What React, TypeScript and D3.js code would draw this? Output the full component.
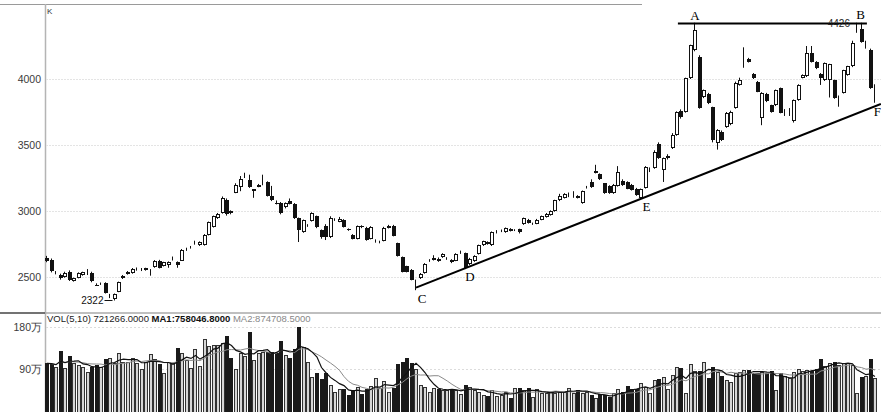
import React from "react";
import * as d3 from "d3";

// ---- data ----
const OPEN = [
  2645, 2630, 2530, 2515, 2500, 2540, 2470, 2495, 2515, 2525,
  2532, 2442, 2445, 2455, 2362, 2335, 2388, 2490, 2522, 2530,
  2560, 2558, 2553, 2550, 2575, 2625, 2585, 2592, 2638, 2612,
  2625, 2708, 2725, 2757, 2740, 2742, 2820, 2880, 2950, 2985,
  3085, 2997, 3140, 3180, 3265, 3232, 3155, 3185, 3205, 3220,
  3110, 3062, 3062, 3030, 3075, 3050, 2945, 2840, 2890, 2925,
  2960, 2855, 2890, 2800, 2935, 2920, 2930, 2860, 2820, 2790,
  2888, 2875, 2790, 2775, 2765, 2775, 2870, 2890, 2757, 2650,
  2580, 2555, 2470, 2490, 2530, 2625, 2630, 2640, 2650, 2640,
  2630, 2625, 2685, 2680, 2600, 2620, 2675, 2740, 2765, 2740,
  2840, 2850, 2840, 2865, 2855, 2860, 2900, 2935, 2905, 2905,
  2935, 2955, 2970, 3000, 3080, 3100, 3125, 3125, 3115, 3060,
  3175, 3220, 3290, 3280, 3210, 3190, 3135, 3190, 3230, 3220,
  3200, 3170, 3100, 3175, 3310, 3325, 3510, 3310, 3400, 3475,
  3575, 3760, 3750, 4005, 4220, 4170, 3865, 3890, 3785, 3515,
  3600, 3640, 3660, 3780, 3955, 4092, 4150, 4040, 3980, 3705,
  3890, 3800, 3800, 3930, 3758, 3760, 3680, 3840, 4010, 4020,
  4195, 4130, 4040, 3990, 3995, 3990, 3860, 3895, 4030, 4095,
  4362, 4380, 4265, 4220, 3945,
];
const HIGH = [
  2660, 2640, 2545, 2525, 2540, 2550, 2495, 2535, 2540, 2560,
  2540, 2452, 2458, 2460, 2372, 2375, 2465, 2515, 2545, 2568,
  2572, 2568, 2570, 2560, 2628, 2630, 2615, 2618, 2655, 2618,
  2712, 2722, 2735, 2775, 2770, 2825, 2920, 2965, 2985, 3110,
  3095, 3005, 3210, 3265, 3290, 3275, 3165, 3205, 3275, 3225,
  3190, 3080, 3068, 3065, 3095, 3060, 2950, 2935, 2900, 2990,
  2965, 2860, 2900, 2960, 2945, 2955, 2938, 2868, 2825, 2890,
  2892, 2880, 2885, 2785, 2775, 2880, 2895, 2895, 2760, 2655,
  2585, 2560, 2480, 2530, 2605, 2635, 2665, 2648, 2680, 2650,
  2635, 2680, 2700, 2685, 2645, 2665, 2745, 2775, 2770, 2845,
  2855, 2860, 2875, 2870, 2862, 2866, 2950, 2940, 2912, 2940,
  2965, 2985, 3005, 3085, 3130, 3135, 3140, 3150, 3120, 3155,
  3190, 3240, 3350, 3285, 3212, 3195, 3205, 3340, 3240, 3225,
  3205, 3175, 3170, 3340, 3330, 3460, 3520, 3405, 3430, 3590,
  3755, 3770, 4010, 4260, 4426, 4180, 3920, 3895, 3790, 3620,
  3610, 3750, 3760, 3980, 4010, 4240, 4160, 4045, 3985, 3900,
  3895, 3805, 3920, 3935, 3772, 3780, 3845, 3960, 4035, 4250,
  4250, 4135, 4045, 4125, 4115, 3995, 3875, 4070, 4100, 4290,
  4426, 4426, 4290, 4230, 3960,
];
const LOW = [
  2612, 2535, 2520, 2480, 2495, 2470, 2465, 2490, 2510, 2515,
  2460, 2432, 2440, 2375, 2340, 2322, 2385, 2485, 2518, 2525,
  2548, 2545, 2548, 2510, 2570, 2565, 2580, 2570, 2625, 2570,
  2622, 2698, 2715, 2745, 2735, 2738, 2815, 2875, 2940, 2980,
  2965, 2975, 3135, 3150, 3250, 3175, 3100, 3180, 3195, 3110,
  3075, 3050, 2975, 3020, 3050, 2940, 2765, 2835, 2880, 2920,
  2870, 2790, 2780, 2795, 2925, 2915, 2875, 2850, 2785, 2785,
  2870, 2775, 2785, 2760, 2755, 2770, 2868, 2808, 2655, 2535,
  2535, 2475, 2400, 2485, 2525, 2615, 2625, 2615, 2645, 2630,
  2605, 2620, 2675, 2560, 2590, 2615, 2670, 2735, 2745, 2735,
  2830, 2840, 2835, 2845, 2848, 2830, 2895, 2905, 2895, 2900,
  2930, 2950, 2965, 2995, 3075, 3095, 3105, 3100, 3095, 3055,
  3170, 3175, 3285, 3235, 3130, 3130, 3130, 3185, 3190, 3165,
  3155, 3115, 3085, 3170, 3295, 3320, 3395, 3220, 3390, 3470,
  3570, 3700, 3745, 4000, 4210, 3775, 3855, 3810, 3520, 3465,
  3530, 3630, 3650, 3775, 3950, 4085, 4125, 4000, 3900, 3650,
  3825, 3745, 3795, 3740, 3720, 3720, 3670, 3835, 4005, 4015,
  4125, 4075, 3955, 3985, 3860, 3850, 3790, 3890, 4025, 4090,
  4350, 4275, 4230, 3925, 3820,
];
const CLOSE = [
  2618, 2545, 2540, 2490, 2530, 2480, 2492, 2530, 2535, 2527,
  2470, 2440, 2455, 2382, 2365, 2370, 2460, 2510, 2540, 2560,
  2562, 2560, 2565, 2552, 2620, 2570, 2610, 2615, 2640, 2590,
  2705, 2710, 2727, 2758, 2765, 2820, 2915, 2960, 2980, 3100,
  2980, 2985, 3200, 3245, 3267, 3180, 3165, 3195, 3208, 3115,
  3080, 3060, 2985, 3060, 3050, 2945, 2855, 2930, 2892, 2985,
  2880, 2800, 2800, 2945, 2937, 2940, 2880, 2858, 2790, 2885,
  2876, 2780, 2880, 2777, 2767, 2875, 2890, 2810, 2660, 2540,
  2540, 2478, 2472, 2525, 2600, 2627, 2645, 2620, 2675, 2642,
  2610, 2675, 2687, 2570, 2640, 2660, 2740, 2770, 2750, 2840,
  2842, 2852, 2870, 2850, 2857, 2840, 2945, 2910, 2907, 2935,
  2960, 2980, 3000, 3080, 3110, 3130, 3127, 3127, 3100, 3150,
  3185, 3180, 3300, 3240, 3135, 3135, 3200, 3295, 3195, 3170,
  3160, 3120, 3165, 3335, 3312, 3450, 3400, 3400, 3420, 3575,
  3750, 3710, 4005, 4255, 4370, 3780, 3915, 3815, 3540, 3615,
  3540, 3745, 3750, 3970, 3990, 4095, 4130, 4005, 3905, 3895,
  3830, 3750, 3915, 3745, 3768, 3762, 3840, 3955, 4030, 4195,
  4130, 4080, 4010, 4120, 4110, 3855, 3870, 4065, 4095, 4275,
  4366, 4280, 4275, 3930, 3950,
];
// volume in 万 (10k)
const VOLUME = [
  102.6, 101, 95.6, 128.7, 92, 118, 102.6, 99, 95.6, 85,
  95.6, 99, 94, 111, 114.6, 102.6, 123.8, 104.7, 106, 114.6,
  104, 90, 106, 122.3, 111, 101, 81.5, 106, 102.6, 134.3,
  125.2, 109.7, 93.5, 132.2, 97, 153.3, 140, 141.4, 141.4, 144.9,
  160.4, 113.2, 90, 125.2, 118.8, 169.5, 109.7, 123.8, 127.3, 127.3,
  125.9, 123.8, 149.8, 120.2, 113.2, 132.2, 180,
  136.4, 106, 74.5, 82.9, 68.8, 81.5, 56.9, 42.8, 48.4, 48.4,
  35.7, 46.3, 51.9, 37.8, 48.4, 54.7, 70.9, 49.8, 65.3, 42.8,
  49.8, 100.5, 106, 113.2, 104, 90, 56.9, 51.9, 42.8, 49.8,
  48.4, 46.3, 46.3, 46.3, 46.3, 37.8, 56.9, 53.3, 46.3, 42.8,
  35.7, 33.6, 46.3, 34.3, 35.7, 42.8, 30.1, 51.2, 49.8, 46.3,
  49.8, 30.8, 47.7, 39.3, 40.7, 42.8, 40.7, 42.8, 42.8, 51.2,
  40.7, 46.3, 39.3, 42.8, 35.7, 28.7,
  37.8, 35.7, 30.8, 39.3, 47.7, 42.8, 54.7, 48.4, 48.4, 60.4,
  53.3, 39.3, 67.4, 68.8, 73, 47.7, 78, 95.6, 93.5, 39.3,
  100.5, 86.4, 86.4, 106, 70.9, 95.6, 85, 75.9, 67.4, 63.9,
  82.9, 85, 88.5, 88.5, 81.5, 82.9, 85, 82.9, 86.4, 46.3,
  81.5, 75.9, 70.9, 85, 90, 86.4, 88.5, 86.4, 90, 111,
  97, 104, 106, 99, 102.6, 102.6, 99, 40.7, 74.5, 76.6,
  111, 72.1,
];
const PRICE_TICKS = [2500, 3000, 3500, 4000];
const VOL_TICKS = [90, 180];
const VOL_TICK_LABELS = ["90万", "180万"];
const VOL_HEADER = ["VOL(5,10) 721266.0000 ", "MA1:758046.8000 ", "MA2:874708.5000"];
// annotation anchors: [candle index, price]
const PEAK_LEVEL = 4426;
const PEAK_LINE = [[140.2, 4420], [182.2, 4420]];
const TREND_LINE = [[82, 2419], [185.3, 3811]];
const POINT_LABELS = ["A", "B", "C", "D", "E", "F"];
const POINT_IDX = [144, 180.8, 82.7, 94, 133, 184.5];
const POINT_PRICE = [4426, 4426, 2400, 2560, 3090, 3810];
const LOW_IDX = 15;
const LOW_VALUE = 2322;

const W = 881;
const H = 412;
const FONT = "'Liberation Sans', Arial, sans-serif";
const SERIF = "'Liberation Serif', 'Times New Roman', serif";

export default function App() {
  const n = CLOSE.length;
  const xs = d3.scaleLinear().domain([0, n - 1]).range([47, 875]);
  const ys = d3.scaleLinear().domain([2500, 4000]).range([277, 79]);
  const vs = d3.scaleLinear().domain([0, 180]).range([411.9, 326.7]);

  const ma = (k: number) =>
    VOLUME.map((_, i) => d3.mean(VOLUME.slice(Math.max(0, i - k + 1), i + 1)) as number);
  const ma5 = ma(5);
  const ma10 = ma(10);
  const vline = d3
    .line<number>()
    .x((_, i) => xs(i))
    .y((d) => vs(d));

  const labelOffsets: Record<string, [number, number]> = {
    A: [0, -3],
    B: [0, -4],
    C: [3, 13],
    D: [0, 12],
    E: [1, 12],
    F: [0, 12],
  };
  const pLine = d3
    .line<number[]>()
    .x((d) => xs(d[0]))
    .y((d) => ys(d[1]));

  return (
    <svg
      width={W}
      height={H}
      style={{ position: "absolute", left: 0, top: 0, background: "#fff" }}
      fontFamily={FONT}
    >
      <rect x={0} y={0} width={W} height={H} fill="#fff" />
      {/* frame */}
      <line x1={0} x2={642} y1={4.5} y2={4.5} stroke="#9a9a9a" strokeWidth={1} />
      <line x1={45.5} x2={45.5} y1={4} y2={H} stroke="#b4b4b4" strokeWidth={1.5} />
      <line x1={0} x2={45} y1={313} y2={313} stroke="#444" strokeWidth={1.5} />
      <line x1={45} x2={W} y1={313} y2={313} stroke="#aaa" strokeWidth={1.5} />

      {/* price grid */}
      {PRICE_TICKS.map((t) => (
        <g key={t}>
          <line
            x1={46}
            x2={W}
            y1={Math.round(ys(t)) + 0.5}
            y2={Math.round(ys(t)) + 0.5}
            stroke="#e4e4e4"
            strokeDasharray="2,1"
          />
          <text x={41} y={ys(t) + 4} textAnchor="end" fontSize={10.5} fill="#3a3a3a">
            {t}
          </text>
        </g>
      ))}
      <text x={47} y={14} fontSize={8} fill="#333">
        K
      </text>

      {/* volume grid */}
      {VOL_TICKS.map((t, i) => (
        <g key={t}>
          <line
            x1={46}
            x2={W}
            y1={Math.round(vs(t)) + 0.5}
            y2={Math.round(vs(t)) + 0.5}
            stroke="#dcdcdc"
            strokeDasharray="2,2"
          />
          <text x={42} y={vs(t) + 4} textAnchor="end" fontSize={10.5} fill="#3a3a3a">
            {VOL_TICK_LABELS[i]}
          </text>
        </g>
      ))}

      {/* candles */}
      {CLOSE.map((c, i) => {
        const o = OPEN[i];
        const L = Math.round(xs(i)) - 2;
        const top = Math.round(ys(Math.max(o, c)));
        const bot = Math.round(ys(Math.min(o, c)));
        const up = c >= o;
        const h = Math.max(1, bot - top);
        return (
          <g key={i}>
            <line
              x1={L + 1.5}
              x2={L + 1.5}
              y1={ys(HIGH[i])}
              y2={ys(LOW[i])}
              stroke="#111"
              strokeWidth={1}
            />
            {up ? (
              <rect x={L + 0.5} y={top + 0.5} width={3} height={Math.max(0, h - 1)} fill="#fff" stroke="#111" strokeWidth={1} />
            ) : (
              <rect x={L} y={top} width={4} height={h} fill="#111" />
            )}
          </g>
        );
      })}

      {/* volume bars */}
      {VOLUME.map((v, i) => {
        const L = Math.round(xs(i)) - 2;
        const top = Math.round(vs(v));
        const up = CLOSE[i] >= OPEN[i];
        return up ? (
          <rect key={i} x={L + 0.5} y={top + 0.5} width={3} height={412 - top} fill="#d6d6d6" stroke="#333" strokeWidth={1} />
        ) : (
          <rect key={i} x={L} y={top} width={4} height={412 - top} fill="#1a1a1a" />
        );
      })}
      <path d={vline(ma10) || ""} fill="none" stroke="#8a8a8a" strokeWidth={1} />
      <path d={vline(ma5) || ""} fill="none" stroke="#111" strokeWidth={1.2} />

      <text x={47} y={322} fontSize={9.5}>
        <tspan fill="#222">{VOL_HEADER[0]}</tspan>
        <tspan fill="#111" fontWeight="bold">{VOL_HEADER[1]}</tspan>
        <tspan fill="#888">{VOL_HEADER[2]}</tspan>
      </text>

      {/* annotations */}
      <path d={pLine(PEAK_LINE) || ""} stroke="#000" strokeWidth={2} fill="none" />
      <path d={pLine(TREND_LINE) || ""} stroke="#000" strokeWidth={2} fill="none" />
      {POINT_LABELS.map((l, i) => (
        <text
          key={l}
          x={xs(POINT_IDX[i]) + labelOffsets[l][0]}
          y={ys(POINT_PRICE[i]) + labelOffsets[l][1]}
          textAnchor="middle"
          fontFamily={SERIF}
          fontSize={13}
          fill="#000"
        >
          {l}
        </text>
      ))}
      <text x={xs(180) - 7} y={ys(PEAK_LEVEL) + 4} textAnchor="end" fontSize={10} fill="#222">
        {PEAK_LEVEL}
      </text>
      <text x={xs(LOW_IDX) - 11} y={ys(LOW_VALUE) + 4} textAnchor="end" fontSize={10} fill="#111">
        {LOW_VALUE}
      </text>
      <line
        x1={xs(LOW_IDX) - 10}
        x2={xs(LOW_IDX) - 2}
        y1={Math.round(ys(LOW_VALUE)) + 0.5}
        y2={Math.round(ys(LOW_VALUE)) + 0.5}
        stroke="#111"
      />
    </svg>
  );
}
